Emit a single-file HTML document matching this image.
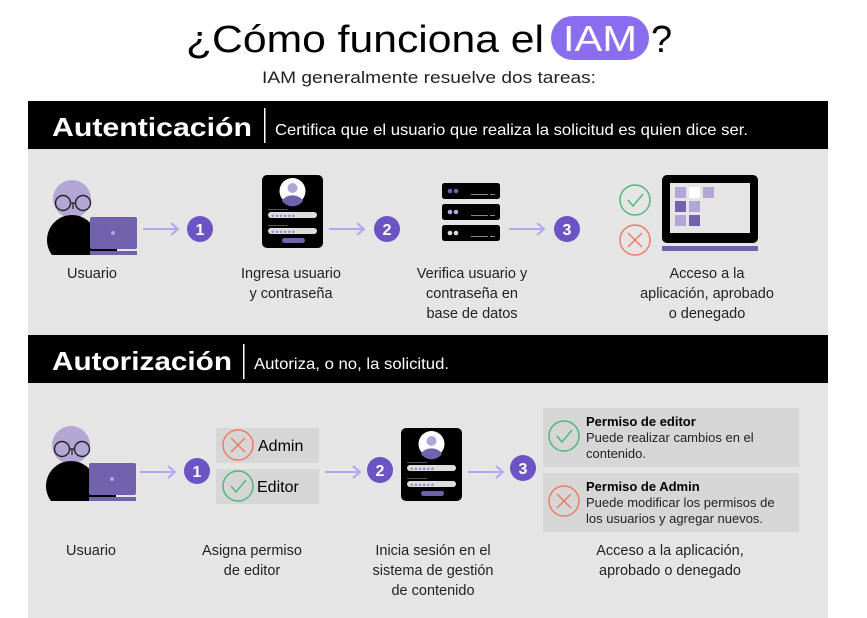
<!DOCTYPE html>
<html><head><meta charset="utf-8"><style>
html,body{margin:0;padding:0;background:#fff;}
svg{display:block;}
text{font-family:"Liberation Sans",sans-serif;}
</style></head><body>
<svg width="867" height="618" viewBox="0 0 867 618" xmlns="http://www.w3.org/2000/svg">
<defs>
<g id="person">
  <circle cx="0" cy="0" r="19" fill="#b3a5d4"/>
  <path d="M-20 56 A25 25 0 0 1 20 26 L20 56 Z" fill="#000"/>
  <circle cx="-9" cy="4" r="7.5" fill="none" stroke="#222" stroke-width="1.4"/>
  <circle cx="11" cy="4" r="7.5" fill="none" stroke="#222" stroke-width="1.4"/>
  <path d="M-2 4 L4 4 M1 4 L1 10" stroke="#222" stroke-width="1.2" fill="none"/>
  <rect x="18" y="18" width="47" height="32" rx="2" fill="#7262ad"/>
  <circle cx="41" cy="34" r="2" fill="#b3a5d4"/>
  <rect x="18" y="52" width="47" height="4" fill="#7262ad"/>
  <rect x="18" y="50" width="27" height="2" fill="#000"/>
</g>
<g id="card">
  <rect x="0" y="0" width="61" height="73" rx="5" fill="#000"/>
  <circle cx="30.5" cy="16" r="13" fill="#fff"/>
  <circle cx="30.5" cy="13" r="5" fill="#b3a5d4"/>
  <path d="M20 26 A11 8 0 0 1 41 26 A13 13 0 0 1 20 26 Z" fill="#7262ad"/>
  <rect x="6" y="34" width="20" height="1" fill="#555"/>
  <rect x="6" y="37" width="49" height="6" rx="3" fill="#ddd"/>
  <rect x="6" y="50" width="20" height="1" fill="#555"/>
  <rect x="6" y="53" width="49" height="6" rx="3" fill="#ddd"/>
  <text x="9" y="42.5" font-size="6" fill="#9a8cc8" letter-spacing="0.5">●●●●●●</text>
  <text x="9" y="58.5" font-size="6" fill="#9a8cc8" letter-spacing="0.5">●●●●●●</text>
  <rect x="20" y="63" width="23" height="5" rx="2.5" fill="#7262ad"/>
</g>
<g id="arrow">
  <line x1="0" y1="0" x2="35" y2="0" stroke="#b3a5f0" stroke-width="2"/>
  <path d="M28 -6 L35 0 L28 6" fill="none" stroke="#b3a5f0" stroke-width="2"/>
</g>
<g id="ok">
  <circle r="15" fill="none" stroke="#4cba7a" stroke-width="1.5"/>
  <path d="M-7 0 L-2 6 L8 -6" fill="none" stroke="#4cba7a" stroke-width="1.5"/>
</g>
<g id="no">
  <circle r="15" fill="none" stroke="#ee7c65" stroke-width="1.5"/>
  <path d="M-7 -7 L7 7 M7 -7 L-7 7" fill="none" stroke="#ee7c65" stroke-width="1.5"/>
</g>
<g id="srv">
  <rect x="0" y="0" width="58" height="16" rx="2.5" fill="#000"/>
  <rect x="29" y="11" width="17" height="1" fill="#888"/>
  <rect x="48" y="11" width="5" height="1" fill="#888"/>
</g>
</defs>

<rect width="867" height="618" fill="#fff"/>
<text x="186" y="52" font-size="38" fill="#000" textLength="358" lengthAdjust="spacingAndGlyphs">¿Cómo funciona el</text>
<rect x="551" y="16" width="98" height="44" rx="22" fill="#8b6ef0"/>
<text x="600" y="51" font-size="36" fill="#fff" text-anchor="middle" textLength="74" lengthAdjust="spacingAndGlyphs">IAM</text>
<text x="651" y="52" font-size="38" fill="#000">?</text>
<text x="262" y="83" font-size="17" fill="#222" textLength="334" lengthAdjust="spacingAndGlyphs">IAM generalmente resuelve dos tareas:</text>

<rect x="28" y="148" width="800" height="187" fill="#e5e5e5"/>
<rect x="28" y="383" width="800" height="235" fill="#e5e5e5"/>
<rect x="28" y="101" width="800" height="48" fill="#000"/>
<rect x="28" y="335" width="800" height="48" fill="#000"/>
<text x="52" y="136" font-size="26" font-weight="bold" fill="#fff" textLength="200" lengthAdjust="spacingAndGlyphs">Autenticación</text>
<rect x="264" y="108" width="1.5" height="35" fill="#fff"/>
<text x="275" y="135" font-size="16" fill="#fff" textLength="473" lengthAdjust="spacingAndGlyphs">Certifica que el usuario que realiza la solicitud es quien dice ser.</text>
<text x="52" y="370" font-size="26" font-weight="bold" fill="#fff" textLength="180" lengthAdjust="spacingAndGlyphs">Autorización</text>
<rect x="243" y="344" width="1.5" height="35" fill="#fff"/>
<text x="254" y="369" font-size="16" fill="#fff" textLength="195" lengthAdjust="spacingAndGlyphs">Autoriza, o no, la solicitud.</text>

<!-- section 1 -->
<use href="#person" x="72" y="199"/>
<use href="#arrow" x="143" y="229"/>
<circle cx="200" cy="229" r="13" fill="#6c54c4"/><text x="200" y="235" font-size="16" font-weight="bold" fill="#fff" text-anchor="middle">1</text>
<use href="#card" x="262" y="175"/>
<use href="#arrow" x="329" y="229"/>
<circle cx="387" cy="229" r="13" fill="#6c54c4"/><text x="387" y="235" font-size="16" font-weight="bold" fill="#fff" text-anchor="middle">2</text>
<use href="#srv" x="442" y="183"/>
<use href="#srv" x="442" y="204"/>
<use href="#srv" x="442" y="225"/>
<circle cx="450" cy="191" r="2.3" fill="#7262ad"/><circle cx="456" cy="191" r="2.3" fill="#7262ad"/>
<circle cx="450" cy="212" r="2.3" fill="#b3a5d4"/><circle cx="456" cy="212" r="2.3" fill="#b3a5d4"/>
<circle cx="450" cy="233" r="2.3" fill="#ddd"/><circle cx="456" cy="233" r="2.3" fill="#ddd"/>
<use href="#arrow" x="509" y="229"/>
<circle cx="567" cy="229" r="13" fill="#6c54c4"/><text x="567" y="235" font-size="16" font-weight="bold" fill="#fff" text-anchor="middle">3</text>
<use href="#ok" x="635" y="200"/>
<use href="#no" x="635" y="240"/>
<rect x="662" y="175" width="96" height="68" rx="5" fill="#000"/>
<rect x="670" y="183" width="80" height="50" fill="#e5e5e5"/>
<rect x="675" y="187" width="11" height="11" fill="#b3a5d4"/>
<rect x="689" y="187" width="11" height="11" fill="#fff"/>
<rect x="703" y="187" width="11" height="11" fill="#b3a5d4"/>
<rect x="675" y="201" width="11" height="11" fill="#7262ad"/>
<rect x="689" y="201" width="11" height="11" fill="#b3a5d4"/>
<rect x="675" y="215" width="11" height="11" fill="#b3a5d4"/>
<rect x="689" y="215" width="11" height="11" fill="#7262ad"/>
<rect x="662" y="246" width="96" height="5" fill="#7262ad"/>

<g font-size="14.5" fill="#222" text-anchor="middle">
<text x="92" y="278">Usuario</text>
<text x="291" y="278">Ingresa usuario</text><text x="291" y="298">y contraseña</text>
<text x="472" y="278">Verifica usuario y</text><text x="472" y="298">contraseña en</text><text x="472" y="318">base de datos</text>
<text x="707" y="278">Acceso a la</text><text x="707" y="298">aplicación, aprobado</text><text x="707" y="318">o denegado</text>
</g>

<!-- section 2 -->
<use href="#person" x="71" y="445"/>
<use href="#arrow" x="140" y="472"/>
<circle cx="197" cy="471" r="13" fill="#6c54c4"/><text x="197" y="477" font-size="16" font-weight="bold" fill="#fff" text-anchor="middle">1</text>
<rect x="216" y="428" width="103" height="35" fill="#d6d6d6"/>
<rect x="216" y="469" width="103" height="35" fill="#d6d6d6"/>
<use href="#no" x="238" y="445"/>
<use href="#ok" x="238" y="486"/>
<text x="258" y="451" font-size="16" fill="#000">Admin</text>
<text x="257" y="492" font-size="16" fill="#000">Editor</text>
<use href="#arrow" x="325" y="472"/>
<circle cx="380" cy="470" r="13" fill="#6c54c4"/><text x="380" y="476" font-size="16" font-weight="bold" fill="#fff" text-anchor="middle">2</text>
<use href="#card" x="401" y="428"/>
<use href="#arrow" x="468" y="472"/>
<circle cx="523" cy="468" r="13" fill="#6c54c4"/><text x="523" y="474" font-size="16" font-weight="bold" fill="#fff" text-anchor="middle">3</text>
<rect x="543" y="408" width="256" height="59" fill="#d6d6d6"/>
<rect x="543" y="473" width="256" height="59" fill="#d6d6d6"/>
<use href="#ok" x="564" y="436"/>
<use href="#no" x="564" y="501"/>
<g font-size="13" fill="#222">
<text x="586" y="426" font-weight="bold" fill="#000">Permiso de editor</text>
<text x="586" y="442">Puede realizar cambios en el</text>
<text x="586" y="458">contenido.</text>
<text x="586" y="491" font-weight="bold" fill="#000">Permiso de Admin</text>
<text x="586" y="507">Puede modificar los permisos de</text>
<text x="586" y="523">los usuarios y agregar nuevos.</text>
</g>
<g font-size="14.5" fill="#222" text-anchor="middle">
<text x="91" y="555">Usuario</text>
<text x="252" y="555">Asigna permiso</text><text x="252" y="575">de editor</text>
<text x="433" y="555">Inicia sesión en el</text><text x="433" y="575">sistema de gestión</text><text x="433" y="595">de contenido</text>
<text x="670" y="555">Acceso a la aplicación,</text><text x="670" y="575">aprobado o denegado</text>
</g>
</svg>
</body></html>
